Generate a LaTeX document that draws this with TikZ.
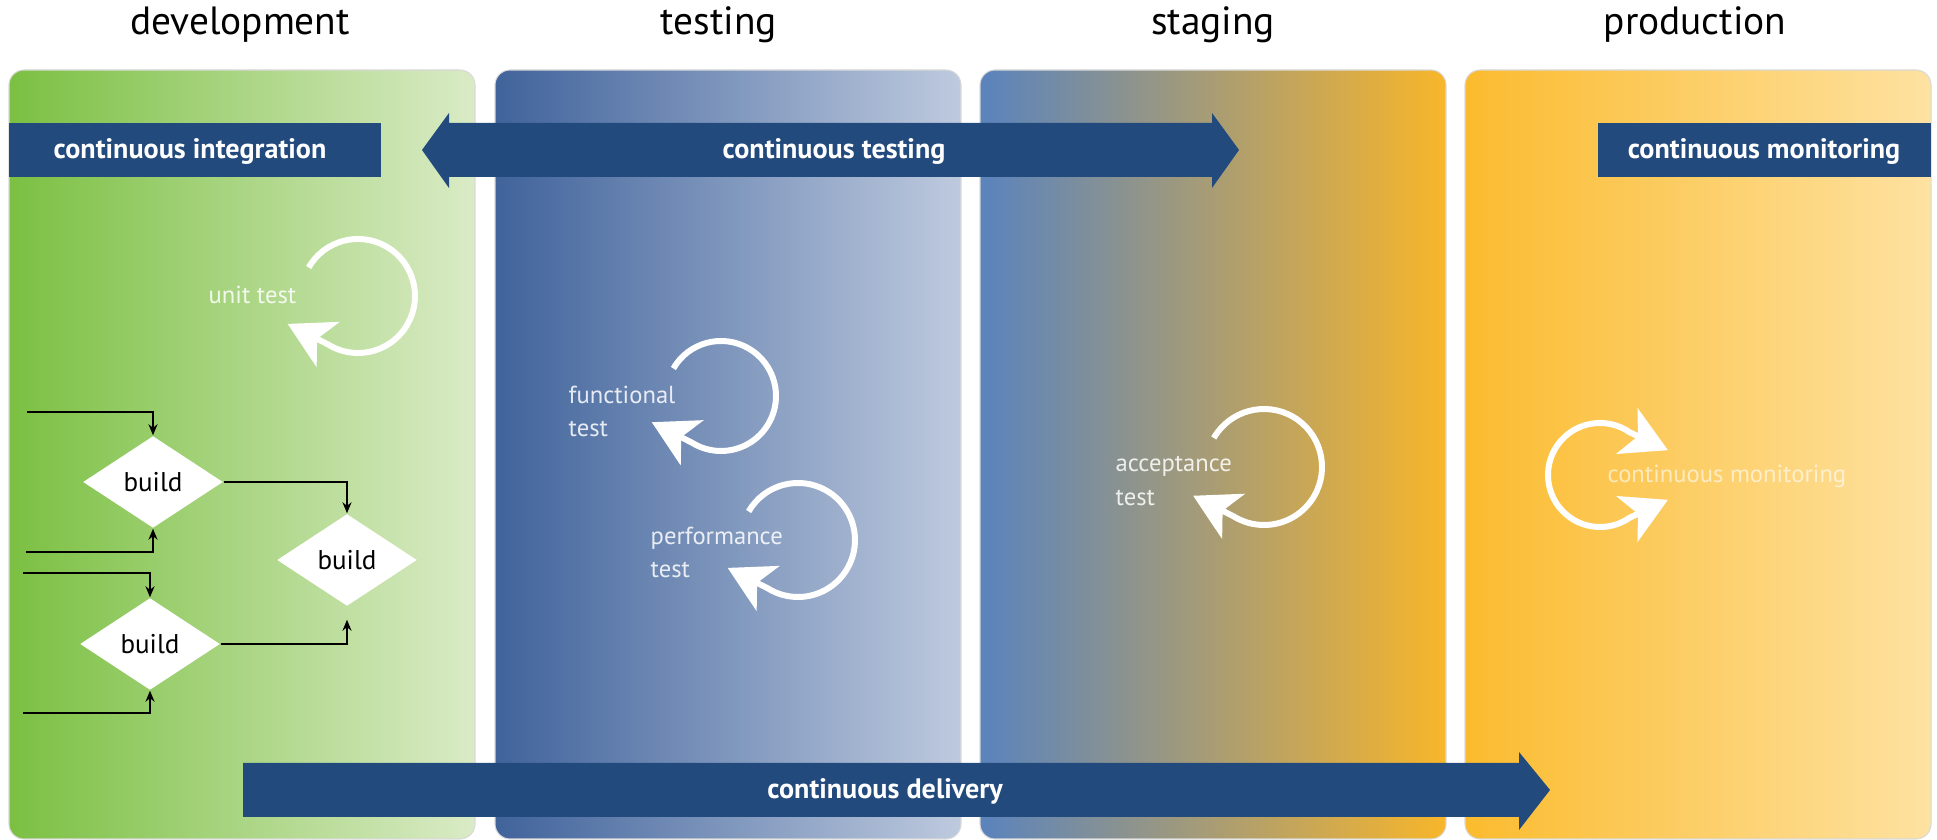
\documentclass[tikz,border=0pt]{standalone}
\usepackage{fontspec}
\setmainfont{PT Sans}
\usetikzlibrary{shapes.geometric,arrows.meta,calc}

\definecolor{devleft}{RGB}{123,192,66}
\definecolor{devright}{RGB}{218,235,198}
\definecolor{testleft}{RGB}{64,99,155}
\definecolor{testright}{RGB}{190,202,222}
\definecolor{stageleft}{RGB}{90,131,189}
\definecolor{stageright}{RGB}{248,182,42}
\definecolor{prodleft}{RGB}{251,187,46}
\definecolor{prodright}{RGB}{254,226,162}
\definecolor{bandblue}{RGB}{35,74,125}

\tikzset{
  panel/.style={rounded corners=0.15cm, draw=black!15, line width=0.3pt},
  phasetitle/.style={anchor=base, inner sep=0pt, font=\fontsize{11.2}{13}\selectfont},
  bandtext/.style={text=white, inner sep=0pt, font=\bfseries\fontsize{8}{10}\selectfont},
  buildbox/.style={diamond, fill=white, minimum width=1.4cm, minimum height=0.92cm, inner sep=0pt, font=\fontsize{7.7}{9}\selectfont},
  flow/.style={line width=0.6pt, -{Stealth[length=1.1mm,width=0.9mm]}},
  loophead/.tip={Stealth[length=4.5mm,width=5mm,inset=1.2mm]},
  testloop/.style={draw=white, line width=1.7pt, -{loophead}},
  looptext/.style={anchor=west, text=white, text opacity=0.85, inner sep=0pt, align=left, font=\fontsize{7}{9.4}\selectfont},
}

\begin{document}
\begin{tikzpicture}[x=0.01cm,y=0.01cm]
\useasboundingbox (0,0) rectangle (1937,840);

\foreach \x/\l/\r in {9/devleft/devright,495/testleft/testright,980/stageleft/stageright,1465/prodleft/prodright}
\shadedraw[panel, left color=\l, right color=\r] (\x,1) rectangle ++(466,769);

\foreach \x/\t/\n in {240/development/devtitle,719/testing/testtitle,1213/staging/stagetitle,1695/production/prodtitle}
\node[phasetitle] (\n) at (\x,805) {\t};

\fill[bandblue] (9,663) rectangle (381,717);
\fill[bandblue] (422,690) -- (449,727) -- (449,717) -- (1212,717) -- (1212,727) -- (1239,690)
  -- (1212,652) -- (1212,663) -- (449,663) -- (449,652) -- cycle;
\fill[bandblue] (1598,663) rectangle (1931,717);
\fill[bandblue] (243,23) -- (1519,23) -- (1519,10) -- (1550,50) -- (1519,88) -- (1519,77) -- (243,77) -- cycle;
\node[bandtext] (ci) at (190,689) {continuous integration};
\node[bandtext] (ct) at (834,689) {continuous testing};
\node[bandtext] (cm) at (1764,689) {continuous monitoring};
\node[bandtext] (cd) at (885,49) {continuous delivery};

\node[buildbox] (b1) at (153,358) {build};
\node[buildbox] (b2) at (347,280) {build};
\node[buildbox] (b3) at (150,196) {build};
\coordinate (in1) at (27,428);
\coordinate (in2) at (26,288);
\coordinate (in3) at (23,267);
\coordinate (in4) at (23,127);
\draw[flow] (in1) -| (b1.north);
\draw[flow] (in2) -| (b1.south);
\draw[flow] (in3) -| (b3.north);
\draw[flow] (in4) -| (b3.south);
\draw[flow] (b1.east) -| (b2.north);
\draw[flow, shorten >=1.3mm] (b3.east) -| (b2.south);

\coordinate (unit) at (358,544);
\coordinate (func) at (721,444);
\coordinate (perf) at (798,300);
\coordinate (acc) at (1264,373);
\coordinate (mon) at (1600,365);
\foreach \c/\r in {unit/57,func/55,perf/57,acc/58}
\draw[testloop] ($(\c)+(150:\r)$) arc[start angle=150, end angle=-122, radius=\r] -- ++(153:45);
\draw[testloop, {loophead}-{loophead}]
  ($(mon)+(55:52)+(-25:42)$) -- ($(mon)+(55:52)$) arc[start angle=55, end angle=305, radius=52] -- ++(25:42);

\node[looptext] (unittext) at (208,545) {unit test};
\node[looptext] (functext) at (568,429) {functional\\test};
\node[looptext] (perftext) at (650,288) {performance\\test};
\node[looptext] (acctext) at (1115,359) {acceptance\\test};
\node[looptext, text opacity=0.6] (montext) at (1607,364) {continuous monitoring};
\end{tikzpicture}
\end{document}
